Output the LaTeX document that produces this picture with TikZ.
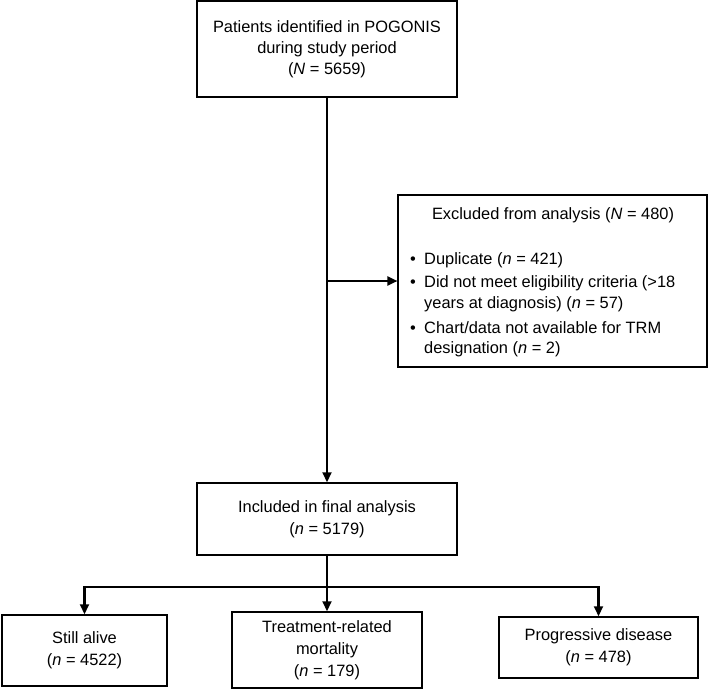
\documentclass[tikz,border=0pt]{standalone}
\usepackage{fontspec}
\setmainfont{Liberation Sans}
\usetikzlibrary{arrows.meta}
\begin{document}
\begin{tikzpicture}[x=1pt,y=-1pt,
  txt/.style={font=\fontsize{16.4}{21}\selectfont},
  txtb/.style={font=\fontsize{16.4}{22}\selectfont},
  box/.style={draw, line width=1.5pt, align=center, inner sep=0pt, txt},
  conn/.style={line width=2.1pt, -{Triangle[length=10pt,width=9pt]}},
  plain/.style={line width=2.1pt},
  item/.style={txt, anchor=base west, inner sep=0pt},
  bul/.style={txt, anchor=base, inner sep=0pt}]
\useasboundingbox (0,0) rectangle (709,690);
\fill[white] (0,0) rectangle (709,690);

\node[box, minimum width=260pt, minimum height=96pt] (top) at (327,49)
  {Patients identified in POGONIS\\during study period\\(\textit{N} = 5659)};

\node[box, minimum width=309pt, minimum height=172pt] (excl) at (552.7,281) {};
\node[txt, anchor=base, inner sep=0pt] (exclt) at (553,219) {Excluded from analysis (\textit{N} = 480)};
\node[bul] (b1) at (413,264) {•};
\node[item] (i1) at (424,264) {Duplicate (\textit{n} = 421)};
\node[bul] (b2) at (413,287) {•};
\node[item] (i2a) at (424,287) {Did not meet eligibility criteria (>18};
\node[item] (i2b) at (424,308) {years at diagnosis) (\textit{n} = 57)};
\node[bul] (b3) at (413,333) {•};
\node[item] (i3a) at (424,333) {Chart/data not available for TRM};
\node[item] (i3b) at (424,353) {designation (\textit{n} = 2)};

\node[box, txtb, minimum width=260pt, minimum height=72pt] (inc) at (327,519)
  {Included in final analysis\\(\textit{n} = 5179)};

\node[box, txtb, minimum width=165pt, minimum height=71pt] (alive) at (84.5,650.5)
  {Still alive\\(\textit{n} = 4522)};
\node[box, txtb, minimum width=190pt, minimum height=76pt] (trm) at (327,650)
  {Treatment-related\\mortality\\(\textit{n} = 179)};
\node[box, txtb, minimum width=199pt, minimum height=61pt] (pd) at (598.5,647.5)
  {Progressive disease\\(\textit{n} = 478)};

\coordinate (j1) at (327,281);
\coordinate (j2) at (327,587);

\draw[conn] (top.south) -- (inc.north);
\draw[conn] (j1) -- (excl.west);
\draw[plain] (inc.south) -- (j2);
\draw[conn] (j2) -| (alive.north);
\draw[conn] (j2) -- (trm.north);
\draw[conn] (j2) -| (pd.north);
\end{tikzpicture}
\end{document}
